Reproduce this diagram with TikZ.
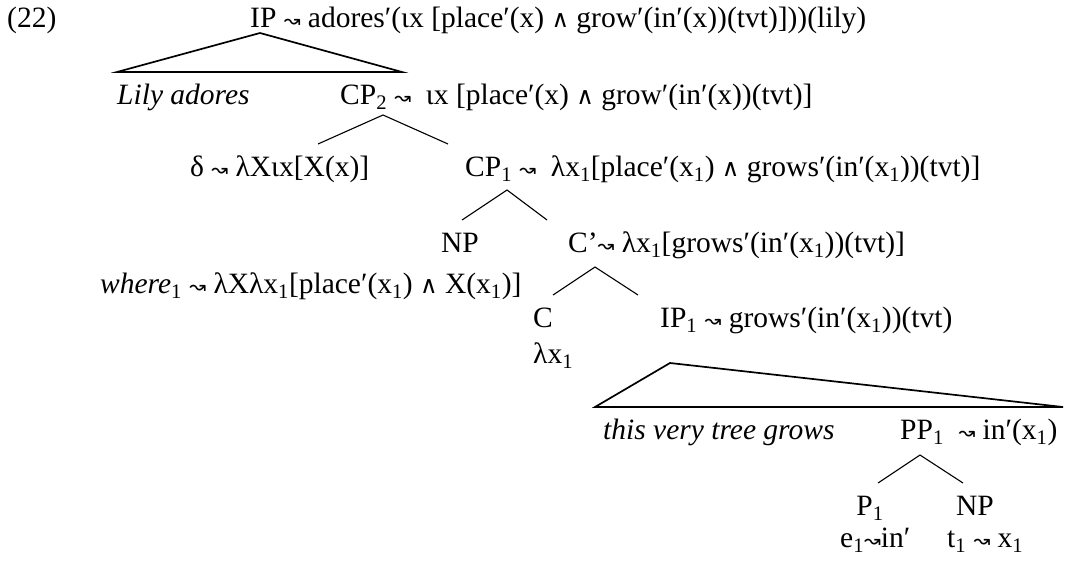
\documentclass[tikz,border=0pt]{standalone}
\usepackage{fontspec}
\setmainfont{Liberation Serif}
\newfontfamily\symf{DejaVu Sans}
\newcommand{\sqa}{{\symf\fontsize{20}{20}\selectfont ↝}}
\newcommand{\andw}{{\symf\fontsize{24}{24}\selectfont ∧}}
\newcommand{\one}{\textsubscript{1}}
\begin{document}
\begin{tikzpicture}[x=1pt,y=-1pt,
  lbl/.style={inner sep=0pt, anchor=base west, font=\fontsize{29.5}{35}\selectfont},
  ilbl/.style={lbl, font=\fontsize{29.5}{35}\selectfont\itshape},
  branch/.style={line width=1.1pt},
  tri/.style={line width=1.7pt, line join=miter}]
\useasboundingbox (0,0) rectangle (1065,560);
% labels
\node[lbl] (ex) at (7,27) {(22)};
\node[lbl] (ip) at (250,27) {IP \sqa\ adores′(ιx [place′(x) \andw\ grow′(in′(x))(tvt)]))(lily)};
\node[ilbl] (lily) at (117,104) {Lily adores};
\node[lbl] (cp2) at (340,104) {CP\textsubscript{2} \sqa\ \ ιx [place′(x) \andw\ grow′(in′(x))(tvt)]};
\node[lbl] (delta) at (190,176) {δ \sqa\ λXιx[X(x)]};
\node[lbl] (cp1) at (465,176) {CP\one\ \sqa\ \ λx\one[place′(x\one) \andw\ grows′(in′(x\one))(tvt)]};
\node[lbl,anchor=base] (np1) at (460,252) {NP};
\node[lbl] (cbar) at (568,252) {C’\sqa\ λx\one[grows′(in′(x\one))(tvt)]};
\node[lbl] (where) at (100,293) {\textit{where}\one\ \sqa\ λXλx\one[place′(x\one) \andw\ X(x\one)]};
\node[lbl] (c) at (533,327) {C};
\node[lbl] (ip1) at (660,327) {IP\one\ \sqa\ grows′(in′(x\one))(tvt)};
\node[lbl] (lam) at (533,363) {λx\one};
\node[ilbl] (tree) at (603,439) {this very tree grows};
\node[lbl] (pp) at (900,439) {PP\one\ \ \sqa\ in′(x\one)};
\node[lbl,anchor=base] (p1) at (870,515) {P\one};
\node[lbl,anchor=base] (np2) at (975,515) {NP};
\node[lbl] (e1) at (840,547) {e\one\sqa in′};
\node[lbl] (t1) at (947,547) {t\one\ \sqa\ x\one};
% branch points
\coordinate (t1a) at (260,33);  \coordinate (t1l) at (117,72); \coordinate (t1r) at (402,72);
\coordinate (b2a) at (383,115); \coordinate (b2l) at (318,144); \coordinate (b2r) at (448,144);
\coordinate (b1a) at (507,190); \coordinate (b1l) at (462,220); \coordinate (b1r) at (547,220);
\coordinate (bca) at (595,267); \coordinate (bcl) at (553,295); \coordinate (bcr) at (638,295);
\coordinate (t2a) at (670,363); \coordinate (t2l) at (595,407); \coordinate (t2r) at (1063,407);
\coordinate (bpa) at (920,455); \coordinate (bpl) at (878,483); \coordinate (bpr) at (963,483);
% edges
\draw[tri] (t1a) -- (t1l) -- (t1r) -- cycle;
\draw[branch] (b2l) -- (b2a) -- (b2r);
\draw[branch] (b1l) -- (b1a) -- (b1r);
\draw[branch] (bcl) -- (bca) -- (bcr);
\draw[tri] (t2a) -- (t2l) -- (t2r) -- cycle;
\draw[branch] (bpl) -- (bpa) -- (bpr);
\end{tikzpicture}
\end{document}
